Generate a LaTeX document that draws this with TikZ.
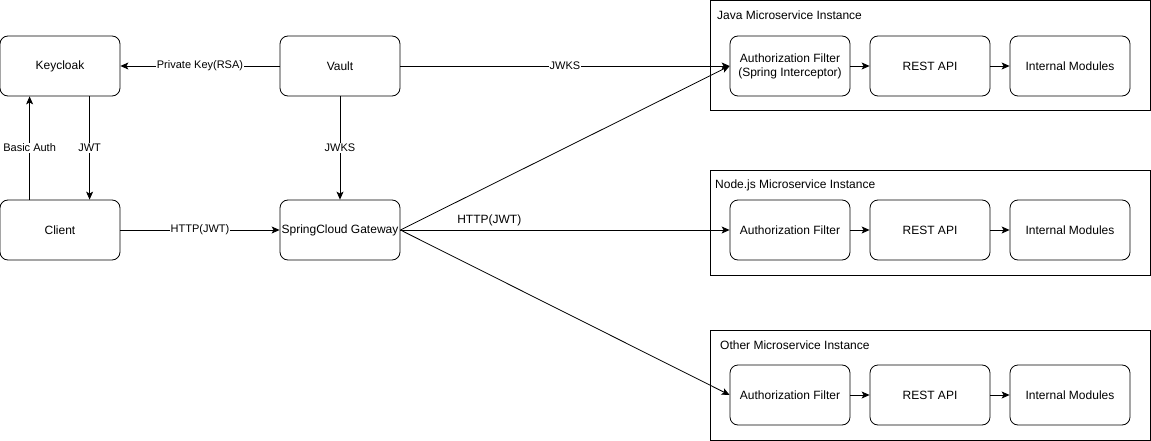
\documentclass[tikz,border=0pt]{standalone}
\usepackage{fontspec}
\setmainfont{Liberation Sans}
\usetikzlibrary{arrows.meta}
\begin{document}
\begin{tikzpicture}[x=1pt,y=-1pt,
  box/.style={draw,rounded corners=8pt,minimum width=120pt,minimum height=60pt,inner sep=1pt,align=center,font=\fontsize{12}{14}\selectfont,line width=0.8pt},
  cont/.style={draw,line width=0.8pt},
  conn/.style={line width=0.8pt,-{Stealth[length=8pt,width=7pt,inset=2pt]}},
  lab/.style={fill=white,inner sep=1pt,font=\fontsize{11}{13}\selectfont},
  ctitle/.style={anchor=west,font=\fontsize{12}{14}\selectfont,inner sep=0pt}]
\useasboundingbox (0,0) rectangle (1151,441);
% containers
\draw[cont] (710,0.5) rectangle (1150,110);
\node[ctitle] (tjava) at (717,15) {Java Microservice Instance};
\draw[cont] (710,170) rectangle (1150,275);
\node[ctitle] (tnode) at (715,185) {Node.js Microservice Instance};
\draw[cont] (710,330) rectangle (1150,440);
\node[ctitle] (tother) at (720,345) {Other Microservice Instance};
% nodes
\node[box] (kc) at (60,66) {Keycloak};
\node[box] (vault) at (340,66) {Vault};
\node[box] (client) at (60,230) {Client};
\node[box] (gw) at (340,230) {SpringCloud Gateway};
\node[box] (ja) at (790,66) {Authorization Filter\\(Spring Interceptor)};
\node[box] (jr) at (930,66) {REST API};
\node[box] (ji) at (1070,66) {Internal Modules};
\node[box] (na) at (790,230) {Authorization Filter};
\node[box] (nr) at (930,230) {REST API};
\node[box] (ni) at (1070,230) {Internal Modules};
\node[box] (oa) at (790,395) {Authorization Filter};
\node[box] (or) at (930,395) {REST API};
\node[box] (oi) at (1070,395) {Internal Modules};
% connectors
\draw[conn] ([xshift=30pt]client.north west) -- node[lab]{Basic Auth} ([xshift=30pt]kc.south west);
\draw[conn] ([xshift=90pt]kc.south west) -- node[lab]{JWT} ([xshift=90pt]client.north west);
\draw[conn] (vault.west) -- node[lab]{Private Key(RSA)} (kc.east);
\draw[conn] (vault.south) -- node[lab]{JWKS} (gw.north);
\draw[conn] (vault.east) -- node[lab]{JWKS} (ja.west);
\draw[conn] (client.east) -- node[lab]{HTTP(JWT)} (gw.west);
\draw[conn] (gw.east) -- (ja.west);
\draw[conn] (gw.east) -- node[pos=0.27,above=4pt,font=\fontsize{12}{14}\selectfont,inner sep=0pt]{HTTP(JWT)} (na.west);
\draw[conn] (gw.east) -- (oa.west);
\draw[conn] (ja) -- (jr);
\draw[conn] (jr) -- (ji);
\draw[conn] (na) -- (nr);
\draw[conn] (nr) -- (ni);
\draw[conn] (oa) -- (or);
\draw[conn] (or) -- (oi);
\end{tikzpicture}
\end{document}
